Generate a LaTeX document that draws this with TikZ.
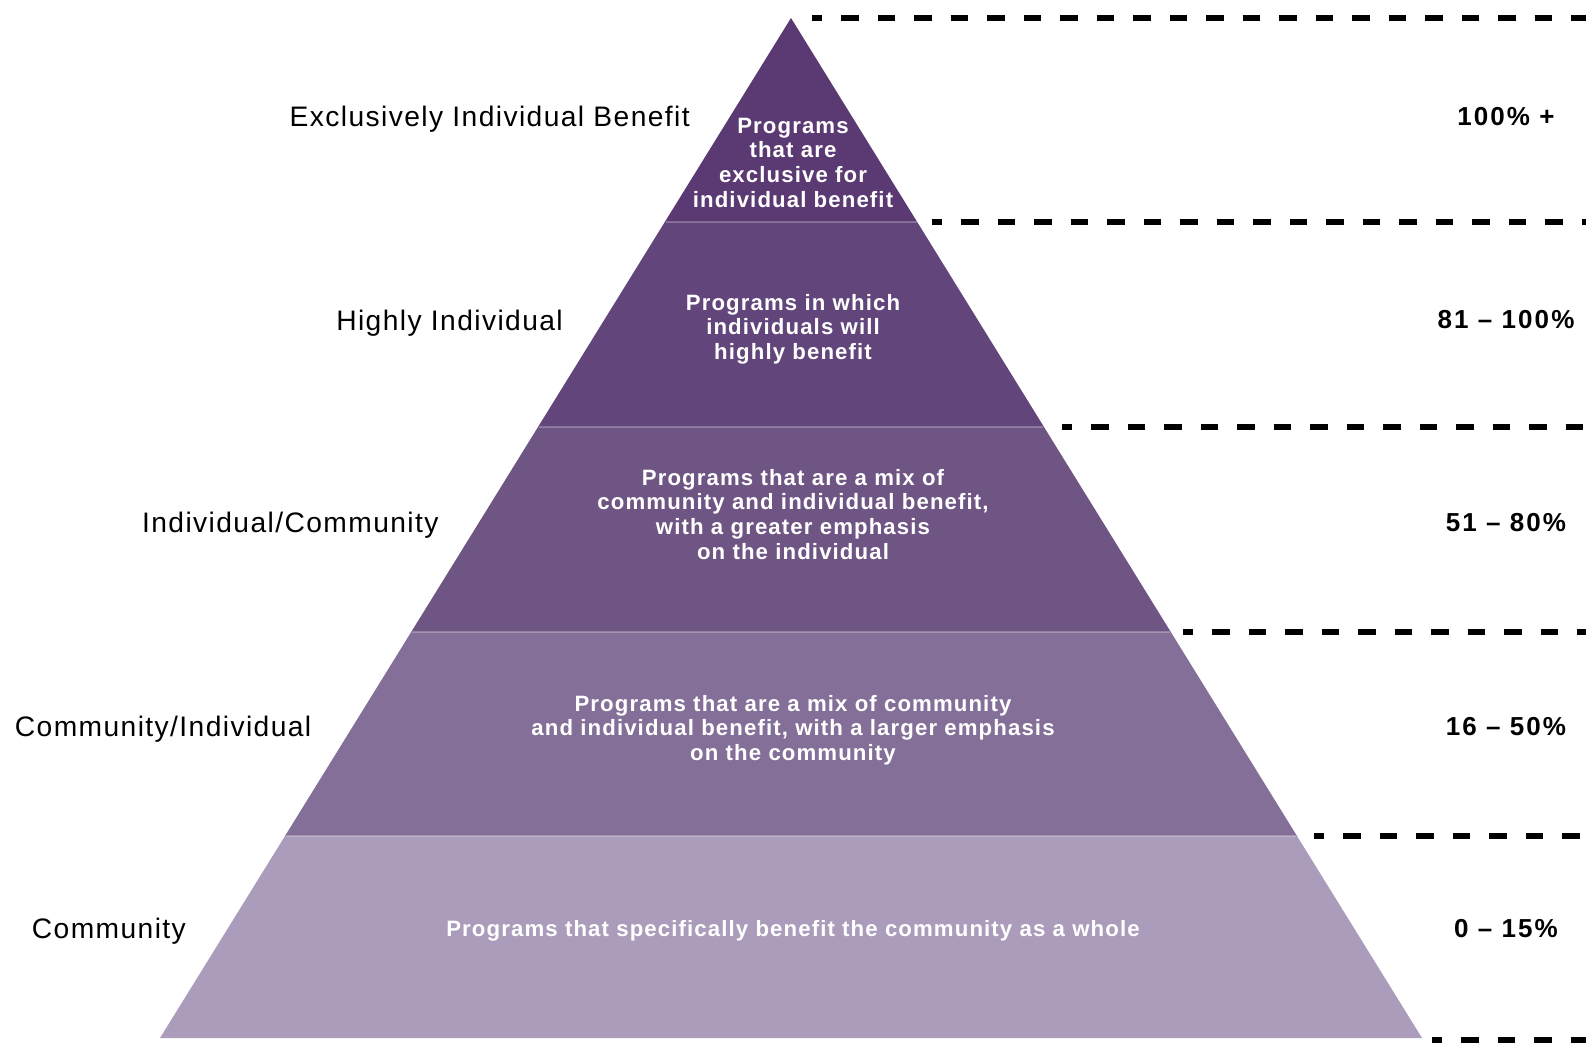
\documentclass[tikz,border=0pt]{standalone}
\usepackage{fontspec}
\setmainfont{Liberation Sans}
\newfontfamily\labfont{Liberation Sans}[LetterSpace=5]
\newfontfamily\pctfont{Liberation Sans}[LetterSpace=8]
\newfontfamily\infont{Liberation Sans}[LetterSpace=5]
\definecolor{bandA}{HTML}{5B3A73}
\definecolor{bandB}{HTML}{62457A}
\definecolor{bandC}{HTML}{6F5583}
\definecolor{bandD}{HTML}{836F97}
\definecolor{bandE}{HTML}{AB9CBB}
\begin{document}
\begin{tikzpicture}[x=1pt,y=-1pt,
  seam/.style={draw=white, draw opacity=0.25, line width=1.2pt},
  leftlab/.style={anchor=base east, inner sep=0pt, font=\labfont\fontsize{28.2}{33}\selectfont},
  pct/.style={anchor=base, inner sep=0pt, font=\pctfont\bfseries\fontsize{26}{31}\selectfont},
  intext/.style={anchor=base, align=center, inner sep=0pt, text=white, font=\infont\bfseries\fontsize{22.2}{24.8}\selectfont},
  dashline/.style={line width=6pt, dash pattern=on 17.5pt off 19pt, dash phase=7.5pt}]
\useasboundingbox (0,0) rectangle (1596,1044);
\fill[white] (0,0) rectangle (1596,1044);
% bands
\fill[bandA] (791,18) -- (917.2,222) -- (664.8,222) -- cycle;
\fill[bandB] (664.8,222) -- (917.2,222) -- (1044,427) -- (538,427) -- cycle;
\fill[bandC] (538,427) -- (1044,427) -- (1170.8,632) -- (411.2,632) -- cycle;
\fill[bandD] (411.2,632) -- (1170.8,632) -- (1297,836) -- (285,836) -- cycle;
\fill[bandE] (285,836) -- (1297,836) -- (1422,1038) -- (160,1038) -- cycle;
\draw[seam] (665.5,222) -- (916.5,222);
\draw[seam] (538.7,427) -- (1043.3,427);
\draw[seam] (411.9,632) -- (1170.1,632);
\draw[seam] (285.7,836) -- (1296.3,836);
% dashed guide lines
\coordinate (d0a) at (812,18);   \coordinate (d0b) at (1586,18);
\coordinate (d1a) at (932,222);  \coordinate (d1b) at (1586,222);
\coordinate (d2a) at (1062,427); \coordinate (d2b) at (1586,427);
\coordinate (d3a) at (1183,632); \coordinate (d3b) at (1586,632);
\coordinate (d4a) at (1314,836); \coordinate (d4b) at (1586,836);
\coordinate (d5a) at (1432,1040);\coordinate (d5b) at (1586,1040);
\foreach \i in {0,...,5}{\draw[dashline] (d\i a) -- (d\i b);}
% inner texts (anchor = baseline of last line)
\node[intext] (t1) at (793,207.4) {Programs\\that are\\exclusive for\\individual benefit};
\node[intext] (t2) at (793,359.6) {Programs in which\\individuals will\\highly benefit};
\node[intext] (t3) at (793,559.4) {Programs that are a mix of\\community and individual benefit,\\with a greater emphasis\\on the individual};
\node[intext] (t4) at (793,760.6) {Programs that are a mix of community\\and individual benefit, with a larger emphasis\\on the community};
\node[intext] (t5) at (793,936) {Programs that specifically benefit the community as a whole};
% left labels
\node[leftlab] (l1) at (690,126) {Exclusively Individual Benefit};
\node[leftlab] (l2) at (563,330) {Highly Individual};
\node[leftlab] (l3) at (438.7,532) {Individual/Community};
\node[leftlab] (l4) at (311.5,736) {Community/Individual};
\node[leftlab] (l5) at (186,938) {Community};
% right labels
\node[pct] (p1) at (1506,125) {100\% +};
\node[pct] (p2) at (1506,328) {81 – 100\%};
\node[pct] (p3) at (1506,531) {51 – 80\%};
\node[pct] (p4) at (1506,735) {16 – 50\%};
\node[pct] (p5) at (1506,937) {0 – 15\%};
\end{tikzpicture}
\end{document}
